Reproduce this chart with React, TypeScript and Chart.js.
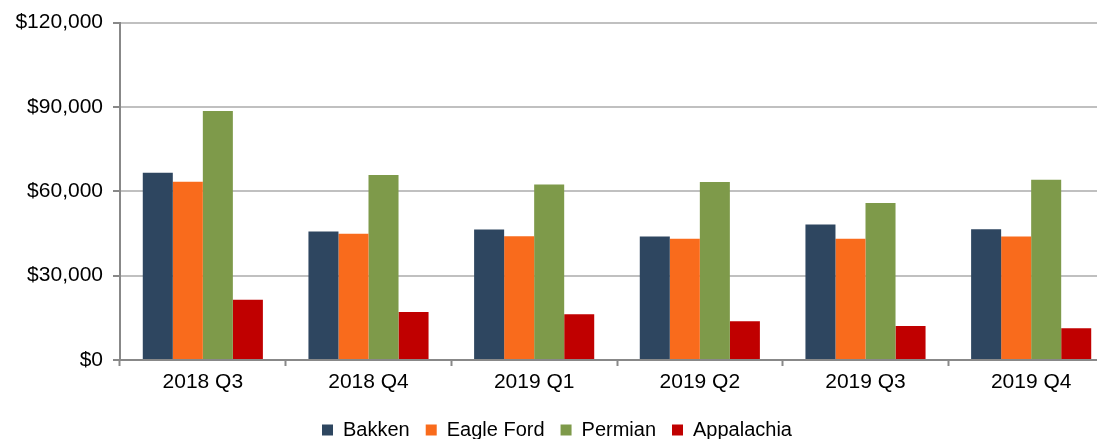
import React, { useEffect, useRef } from "react";
import { Chart, registerables } from "chart.js";

Chart.register(...registerables);

const categories = ["2018 Q3", "2018 Q4", "2019 Q1", "2019 Q2", "2019 Q3", "2019 Q4"];
const bakken = [66600, 45700, 46400, 43900, 48200, 46500];
const eagleFord = [63400, 44900, 44000, 43100, 43100, 43900];
const permian = [88600, 65800, 62400, 63300, 55800, 64100];
const appalachia = [21400, 17100, 16300, 13800, 12100, 11300];
const yTicks = [0, 30000, 60000, 90000, 120000];

const FONT = "'Liberation Sans', Arial, sans-serif";

export default function App() {
  const ref = useRef<HTMLCanvasElement | null>(null);

  useEffect(() => {
    if (!ref.current) return;
    const chart = new Chart(ref.current, {
      type: "bar",
      data: {
        labels: categories,
        datasets: [
          { label: "Bakken", data: bakken, backgroundColor: "#2E4660" },
          { label: "Eagle Ford", data: eagleFord, backgroundColor: "#F96B1C" },
          { label: "Permian", data: permian, backgroundColor: "#7E9A4A" },
          { label: "Appalachia", data: appalachia, backgroundColor: "#C00000" },
        ],
      },
      options: {
        animation: false,
        responsive: true,
        maintainAspectRatio: false,
        layout: { padding: { top: 22, left: 0, right: 2, bottom: 0 } },
        datasets: {
          bar: { categoryPercentage: 0.725, barPercentage: 1.0 },
        },
        plugins: {
          tooltip: { enabled: false },
          legend: {
            position: "bottom",
            labels: {
              boxWidth: 11,
              boxHeight: 11,
              padding: 16,
              color: "#000",
              font: { family: FONT, size: 20 },
            },
          },
        },
        scales: {
          x: {
            offset: true,
            grid: {
              offset: true,
              drawOnChartArea: false,
              drawTicks: true,
              tickLength: 6,
              tickColor: "#888",
              tickWidth: 2,
            },
            border: { color: "#888", width: 2 },
            ticks: {
              color: "#000",
              padding: 4,
              font: { family: FONT, size: 21 },
              maxRotation: 0,
            },
            afterFit: (s: any) => {
              s.height = 44;
            },
          },
          y: {
            min: 0,
            max: 120000,
            afterBuildTicks: (s: any) => {
              s.ticks = yTicks.map((v) => ({ value: v }));
            },
            grid: {
              color: "#C0C0C0",
              lineWidth: 2,
              tickLength: 7,
              tickColor: "#888",
              tickWidth: 2,
            },
            border: { color: "#888", width: 2 },
            ticks: {
              color: "#000",
              padding: 10,
              font: { family: FONT, size: 21 },
              callback: (v: any) => "$" + Number(v).toLocaleString("en-US"),
            },
            afterFit: (s: any) => {
              s.width = 120;
            },
          },
        },
      },
    });
    return () => chart.destroy();
  }, []);

  return (
    <div
      style={{
        position: "fixed",
        left: 0,
        top: 0,
        width: 1097,
        height: 439,
        overflow: "hidden",
        background: "#fff",
      }}
    >
      <div style={{ position: "relative", width: 1116, height: 450 }}>
        <canvas ref={ref} />
      </div>
    </div>
  );
}
